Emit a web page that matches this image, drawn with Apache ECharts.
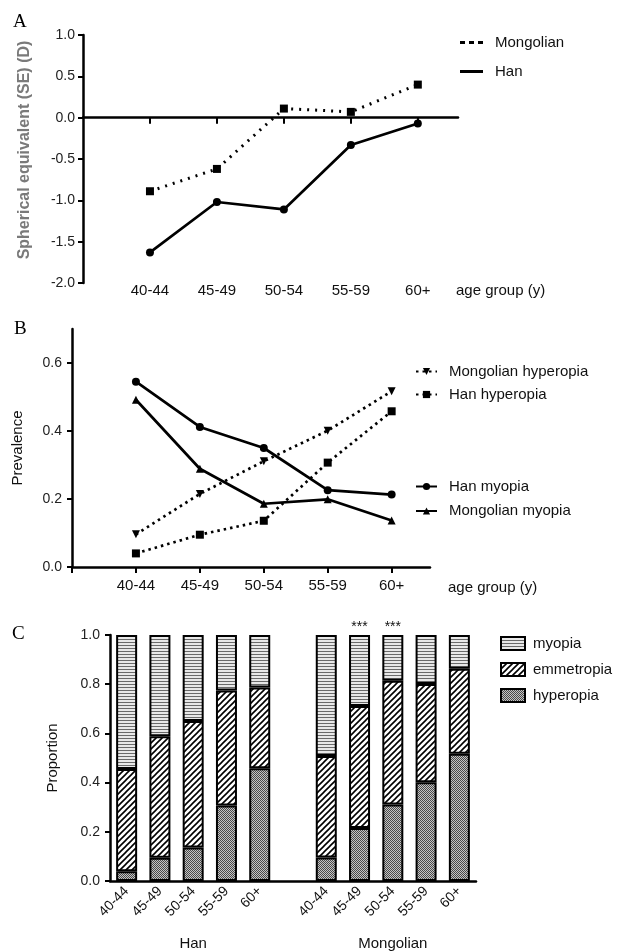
<!DOCTYPE html>
<html>
<head>
<meta charset="utf-8">
<title>Refraction by age group</title>
<script src="https://cdn.jsdelivr.net/npm/echarts@6/dist/echarts.min.js"></script>
<style>
    html, body { margin: 0; padding: 0; background: #fff; }
    #main { width: 617px; height: 952px; }
</style>
</head>
<body>
<div id="main"></div>
<script type="text/javascript">
    // age groups (x positions 1..5 on panels A and B)
    var ageGroups = ['40-44', '45-49', '50-54', '55-59', '60+'];
    var agePos = [1, 2, 3, 4, 5];

    // A: spherical equivalent (D)
    var seMongolian = [-0.89, -0.62, 0.11, 0.07, 0.40];
    var seHan = [-1.63, -1.02, -1.11, -0.33, -0.07];

    // B + C: proportions
    var hanMyopia = [0.545, 0.412, 0.350, 0.226, 0.213];
    var monMyopia = [0.492, 0.289, 0.186, 0.199, 0.137];
    var hanHyperopia = [0.040, 0.095, 0.136, 0.307, 0.458];
    var monHyperopia = [0.096, 0.215, 0.311, 0.401, 0.517];
    var hanEmmetropia = [0.415, 0.493, 0.514, 0.467, 0.329];
    var monEmmetropia = [0.412, 0.496, 0.503, 0.400, 0.346];

    // C: significance marks, group names; B tick values
    var monMarks = ['', '***', '***', '', ''];
    var groupNames = ['Han', 'Mongolian'];
    var ticksB = [0, 0.2, 0.4, 0.6];

    var font = 'Liberation Sans, Arial, sans-serif';

    function pairs(vals) {
        return agePos.map(function (p, i) { return [p, vals[i]]; });
    }
    function ageLabel(v) {
        return ageGroups[v - 1] || '';
    }
    function dec1(v) {
        return (+v).toFixed(1);
    }

    // fill patterns for the stacked bars
    function makePattern(kind) {
        var c = document.createElement('canvas');
        var ctx;
        if (kind === 'myopia') {
            c.width = 4; c.height = 3;
            ctx = c.getContext('2d');
            ctx.fillStyle = '#e8e8e8'; ctx.fillRect(0, 0, 4, 3);
            ctx.fillStyle = '#6a6a6a'; ctx.fillRect(0, 0, 4, 1);
        } else if (kind === 'emmetropia') {
            c.width = 6; c.height = 6;
            ctx = c.getContext('2d');
            ctx.fillStyle = '#fff'; ctx.fillRect(0, 0, 6, 6);
            ctx.strokeStyle = '#000'; ctx.lineWidth = 1.6;
            ctx.beginPath();
            ctx.moveTo(-1, 7); ctx.lineTo(7, -1);
            ctx.moveTo(-1, 1); ctx.lineTo(1, -1);
            ctx.moveTo(5, 7); ctx.lineTo(7, 5);
            ctx.stroke();
        } else {
            c.width = 2; c.height = 2;
            ctx = c.getContext('2d');
            ctx.fillStyle = '#c4c4c4'; ctx.fillRect(0, 0, 2, 2);
            ctx.fillStyle = '#4a4a4a'; ctx.fillRect(0, 0, 1, 1); ctx.fillRect(1, 1, 1, 1);
        }
        return { image: c, repeat: 'repeat' };
    }

    var catsC = ageGroups.concat([''], ageGroups);
    var groupCats = catsC.map(function (c, i) {
        if (i === 2) return groupNames[0];
        if (i === 8) return groupNames[1];
        return '';
    });
    function barData(han, mon) {
        return han.concat([null], mon);
    }
    var marksC = ['', '', '', '', '', ''].concat(monMarks);

    var axisLine = { lineStyle: { color: '#000', width: 2.5 } };
    var tickStyle = { color: '#000', width: 2 };
    var dottedA = [2, 6];
    var dottedB = [2.5, 4];
    var letterStyle = { fontFamily: 'Liberation Serif', fontSize: 19, fontWeight: 'normal', color: '#000' };

    var myChart = echarts.init(document.getElementById('main'));
    var option = {
        animation: false,
        textStyle: { fontFamily: font },
        title: [
            { text: 'A', left: 13, top: 13, padding: 0, textStyle: letterStyle },
            { text: 'B', left: 14, top: 320, padding: 0, textStyle: letterStyle },
            { text: 'C', left: 12, top: 625, padding: 0, textStyle: letterStyle }
        ],
        legend: [
            {
                orient: 'vertical', left: 460, top: 35, padding: 0, itemWidth: 23, itemHeight: 3, itemGap: 14,
                textStyle: { fontSize: 15, color: '#111', padding: [0, 0, 0, 7] },
                data: [
                    { name: 'Mongolian', icon: 'path://M0,0h5v3h-5zM9,0h5v3h-5zM18,0h5v3h-5z' },
                    { name: 'Han', icon: 'path://M0,0h23v3h-23z' }
                ]
            },
            {
                orient: 'vertical', left: 415, top: 364, padding: 0, itemWidth: 21, itemHeight: 9, itemGap: 8,
                textStyle: { fontSize: 15, color: '#111', padding: [0, 0, 0, 7] },
                data: ['Mongolian hyperopia', 'Han hyperopia']
            },
            {
                orient: 'vertical', left: 415, top: 479, padding: 0, itemWidth: 21, itemHeight: 9, itemGap: 9.5,
                textStyle: { fontSize: 15, color: '#111', padding: [0, 0, 0, 7] },
                data: ['Han myopia', 'Mongolian myopia']
            },
            {
                orient: 'vertical', left: 500, top: 636, padding: 0, itemWidth: 24, itemHeight: 13, itemGap: 11,
                textStyle: { fontSize: 15, color: '#111', padding: [0, 0, 0, 3] },
                data: [
                    { name: 'myopia', icon: 'rect' },
                    { name: 'emmetropia', icon: 'rect' },
                    { name: 'hyperopia', icon: 'rect' }
                ]
            }
        ],
        grid: [
            { left: 83, top: 35, width: 375, height: 248 },
            { left: 72, top: 329, width: 358, height: 238 },
            { left: 110, top: 635, width: 366, height: 246 }
        ],
        xAxis: [
            {   // A: line at zero
                gridIndex: 0, type: 'value', min: 0, max: 5.6,
                axisLine: { onZero: true, lineStyle: { color: '#000', width: 2.5 } },
                axisTick: { customValues: agePos, length: 6, lineStyle: tickStyle },
                axisLabel: { show: false },
                splitLine: { show: false }
            },
            {   // A: labels at bottom
                gridIndex: 0, type: 'value', min: 0, max: 5.6, position: 'bottom',
                axisLine: { show: false, onZero: false },
                axisTick: { show: false },
                axisLabel: { customValues: agePos, formatter: ageLabel, fontSize: 15, color: '#111', margin: 0 },
                splitLine: { show: false },
                name: 'age group (y)', nameLocation: 'end', nameGap: -2,
                nameTextStyle: { fontSize: 15, color: '#111', verticalAlign: 'top', padding: [0, 0, 0, 0] }
            },
            {   // B
                gridIndex: 1, type: 'value', min: 0, max: 5.6,
                axisLine: axisLine,
                axisTick: { customValues: [0].concat(agePos), length: 6, lineStyle: tickStyle },
                axisLabel: { customValues: agePos, formatter: ageLabel, fontSize: 15, color: '#111', margin: 11 },
                splitLine: { show: false },
                name: 'age group (y)', nameLocation: 'end', nameGap: 18,
                nameTextStyle: { fontSize: 15, color: '#111', verticalAlign: 'top', padding: [13, 0, 0, 0] }
            },
            {   // C bars
                gridIndex: 2, type: 'category', data: catsC,
                axisLine: axisLine,
                axisTick: { alignWithLabel: true, interval: 0, length: 6, lineStyle: tickStyle },
                axisLabel: { interval: 0, rotate: 45, fontSize: 14, color: '#111', margin: 8 }
            },
            {   // C group names
                gridIndex: 2, type: 'category', data: groupCats, position: 'bottom', offset: 55,
                axisLine: { show: false }, axisTick: { show: false },
                axisLabel: { interval: 0, fontSize: 15, color: '#111', margin: 0 }
            }
        ],
        yAxis: [
            {
                gridIndex: 0, type: 'value', min: -2, max: 1, interval: 0.5,
                axisLine: { show: true, onZero: false, lineStyle: { color: '#000', width: 2.5 } },
                axisTick: { show: true, length: 5, lineStyle: tickStyle },
                axisLabel: { formatter: dec1, fontSize: 14, color: '#222', margin: 8 },
                splitLine: { show: false },
                name: 'Spherical equivalent (SE) (D)', nameLocation: 'middle', nameGap: 50,
                nameTextStyle: { fontSize: 16, fontWeight: 'bold', color: '#7a7a7a', padding: [0, 0, 0, 18] }
            },
            {
                gridIndex: 1, type: 'value', min: 0, max: 0.7,
                axisLine: { show: true, onZero: false, lineStyle: { color: '#000', width: 2.5 } },
                axisTick: { show: true, customValues: ticksB, length: 5, lineStyle: tickStyle },
                axisLabel: { customValues: ticksB, formatter: dec1, fontSize: 14, color: '#222', margin: 10 },
                splitLine: { show: false },
                name: 'Prevalence', nameLocation: 'middle', nameGap: 47,
                nameTextStyle: { fontSize: 15, color: '#111' }
            },
            {
                gridIndex: 2, type: 'value', min: 0, max: 1, interval: 0.2,
                axisLine: { show: true, onZero: false, lineStyle: { color: '#000', width: 2.5 } },
                axisTick: { show: true, length: 5, lineStyle: tickStyle },
                axisLabel: { formatter: dec1, fontSize: 14, color: '#222', margin: 10 },
                splitLine: { show: false },
                name: 'Proportion', nameLocation: 'middle', nameGap: 50,
                nameTextStyle: { fontSize: 15, color: '#111' }
            }
        ],
        series: [
            {
                name: 'Mongolian', type: 'line', xAxisIndex: 0, yAxisIndex: 0, data: pairs(seMongolian),
                symbol: 'rect', symbolSize: 8, itemStyle: { color: '#000' },
                lineStyle: { color: '#000', width: 3, type: dottedA }
            },
            {
                name: 'Han', type: 'line', xAxisIndex: 0, yAxisIndex: 0, data: pairs(seHan),
                symbol: 'circle', symbolSize: 8, itemStyle: { color: '#000' },
                lineStyle: { color: '#000', width: 2.7 }
            },
            {
                name: 'Mongolian hyperopia', type: 'line', xAxisIndex: 2, yAxisIndex: 1, data: pairs(monHyperopia),
                symbol: 'triangle', symbolRotate: 180, symbolSize: 8, itemStyle: { color: '#000' },
                lineStyle: { color: '#000', width: 2.7, type: dottedB }
            },
            {
                name: 'Han hyperopia', type: 'line', xAxisIndex: 2, yAxisIndex: 1, data: pairs(hanHyperopia),
                symbol: 'rect', symbolSize: 8, itemStyle: { color: '#000' },
                lineStyle: { color: '#000', width: 2.7, type: dottedB }
            },
            {
                name: 'Han myopia', type: 'line', xAxisIndex: 2, yAxisIndex: 1, data: pairs(hanMyopia),
                symbol: 'circle', symbolSize: 8, itemStyle: { color: '#000' },
                lineStyle: { color: '#000', width: 2.7 }
            },
            {
                name: 'Mongolian myopia', type: 'line', xAxisIndex: 2, yAxisIndex: 1, data: pairs(monMyopia),
                symbol: 'triangle', symbolSize: 8, itemStyle: { color: '#000' },
                lineStyle: { color: '#000', width: 2.7 }
            },
            {
                name: 'hyperopia', type: 'bar', stack: 'c', xAxisIndex: 3, yAxisIndex: 2,
                data: barData(hanHyperopia, monHyperopia), barWidth: 21,
                itemStyle: { color: makePattern('hyperopia'), borderColor: '#000', borderWidth: 2 }
            },
            {
                name: 'emmetropia', type: 'bar', stack: 'c', xAxisIndex: 3, yAxisIndex: 2,
                data: barData(hanEmmetropia, monEmmetropia), barWidth: 21,
                itemStyle: { color: makePattern('emmetropia'), borderColor: '#000', borderWidth: 2 }
            },
            {
                name: 'myopia', type: 'bar', stack: 'c', xAxisIndex: 3, yAxisIndex: 2,
                data: barData(hanMyopia, monMyopia), barWidth: 21,
                itemStyle: { color: makePattern('myopia'), borderColor: '#000', borderWidth: 2 },
                label: {
                    show: true, position: 'top', distance: 1, fontSize: 14, color: '#111',
                    formatter: function (p) { return marksC[p.dataIndex] || ''; }
                }
            }
        ]
    };
    myChart.setOption(option);
</script>
</body>
</html>
